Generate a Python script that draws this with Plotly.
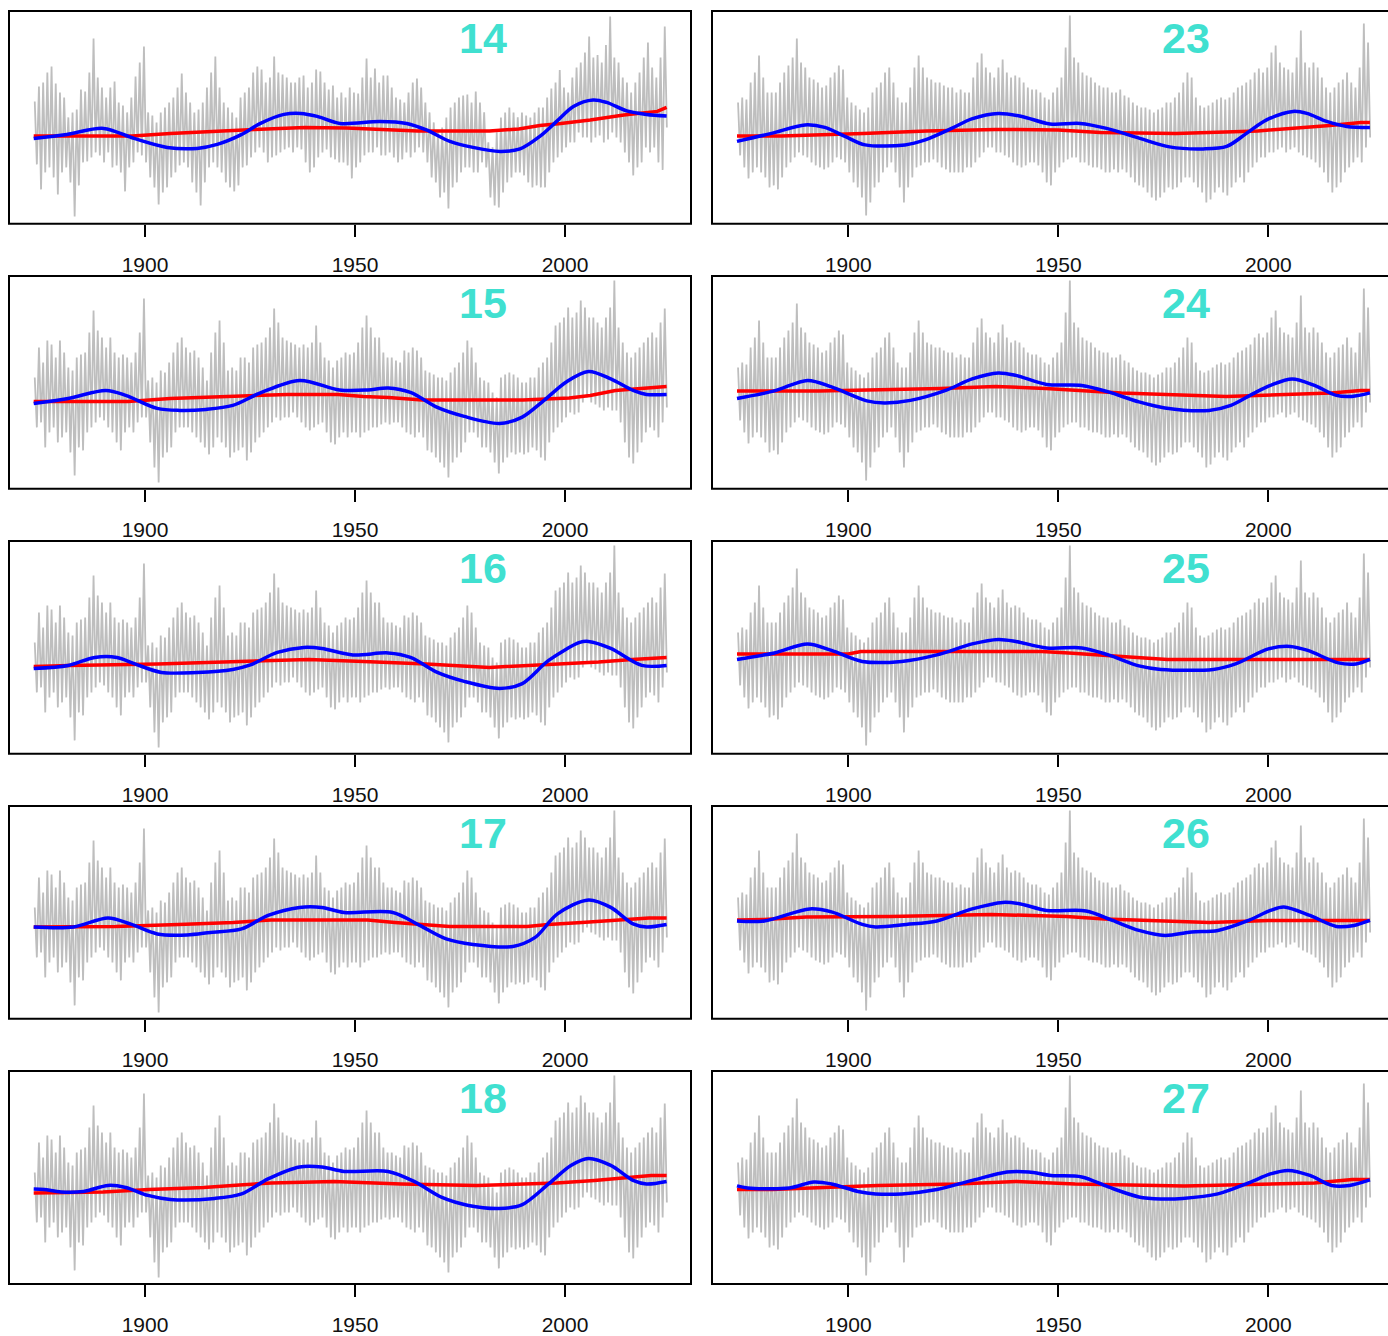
import plotly.graph_objects as go

W, H = 1388, 1336

# ---------------- data (arbitrary anomaly units) ----------------
YEARS = list(range(1874, 2025))
TICK_VALUES = [1900, 1950, 2000]
TICK_LABELS = ["1900", "1950", "2000"]
PANELS = ["14", "15", "16", "17", "18", "23", "24", "25", "26", "27"]

# gray series: yearly upper / lower envelope of the monthly values
L1_HI = [1.6, 3.1, 3.5, 4.5, 5.1, 3.4, 2.5, 2.0, 0.0, 0.5, 0.8, 2.8, 2.6, 4.5, 7.9, 4.0, 3.0, 2.0, 3.0, 3.6,
         1.5, 1.2, 0.5, 2.0, 4.1, 5.5, 7.1, 0.5, 0.2, -0.5, 0.5, 1.0, 1.5, 2.0, 3.0, 4.4, 2.5, 1.5, 0.5, 0.8,
         1.5, 3.0, 4.5, 6.1, 3.0, 1.5, 1.0, 0.5, 0.0, 2.0, 2.5, 3.0, 4.5, 5.1, 4.8, 3.5, 4.0, 6.1, 4.5, 4.3,
         4.0, 3.5, 3.5, 4.0, 4.2, 3.0, 3.5, 4.8, 4.6, 3.5, 2.8, 3.2, 2.0, 2.5, 2.0,
         3.0, 2.5, 2.4, 4.0, 5.9, 4.0, 4.9, 3.5, 4.2, 4.2, 3.0, 2.0, 1.8, 1.5, 2.5, 3.5, 3.9, 3.0, 1.5, 0.5,
         -0.5, -1.5, -1.0, 0.0, 1.0, 1.5, 2.0, 2.2, 2.3, 1.5, 2.6, 1.5, 0.5, -2.5, -3.0, -1.5, 0.0, 0.5, 1.0, 0.5,
         0.0, 0.5, 0.2, 0.0, 0.5, 1.0, 1.0, 2.0, 2.9, 3.5, 4.75, 3.0, 2.5, 4.0, 5.0, 5.5, 6.5, 8.1, 6.0, 6.25,
         5.5, 7.25, 10.1, 6.0, 5.5, 4.0, 3.5, 2.5, 3.5, 4.5, 6.0, 7.5, 5.0, 4.0, 6.0, 9.1]
L1_LO = [-4.7, -7.2, -5.5, -5.0, -6.0, -7.7, -5.5, -5.0, -6.5, -9.9, -6.8, -4.5, -4.4, -4.0, -3.5, -3.8, -4.5, -3.5, -5.0, -4.8,
         -5.5, -7.4, -5.0, -4.5, -3.5, -3.8, -4.5, -6.0, -7.0, -8.7, -7.5, -7.0, -6.0, -5.5, -4.8, -4.5, -5.0, -6.5, -7.5, -8.8,
         -6.5, -5.0, -4.5, -5.0, -5.5, -6.5, -7.0, -7.4, -6.8, -5.0, -4.8, -4.0, -3.5, -3.0, -3.5, -4.5, -4.0, -3.8, -3.5, -3.2,
         -3.0, -3.5, -3.0, -3.2, -4.5, -5.5, -5.0, -4.0, -3.5, -3.2, -4.0, -4.2, -4.5, -4.5, -4.8,
         -6.1, -5.0, -4.5, -3.8, -3.5, -3.5, -3.0, -3.8, -3.8, -3.5, -4.0, -4.5, -4.2, -3.5, -4.0, -3.5, -3.0, -3.5, -4.5, -6.0,
         -6.5, -8.0, -7.5, -9.1, -7.0, -6.5, -5.5, -5.0, -5.0, -5.5, -5.5, -4.5, -5.0, -8.0, -8.8, -9.0, -7.5, -6.5, -6.0, -5.5,
         -5.5, -5.8, -6.5, -7.0, -6.8, -7.0, -7.0, -5.5, -4.5, -4.0, -3.5, -3.0, -2.5, -2.5, -1.5, -2.0, -2.0, -2.5, -2.0, -1.8,
         -2.5, -2.2, -1.5, -2.0, -2.5, -3.5, -4.5, -5.8, -5.0, -4.5, -3.0, -3.5, -3.0, -4.5, -5.25, -1.0]

L2_HI = [0.5, 3.5, 2.0, 4.2, 3.8, 2.5, 4.2, 3.0, 1.5, 1.2, 2.5, 2.8, 3.0, 5.0, 7.2, 5.2, 4.5, 3.5, 4.5, 3.0,
         2.5, 2.8, 2.5, 2.0, 3.0, 5.0, 8.4, 0.2, 0.5, 0.0, 1.2, 1.0, 2.0, 3.0, 4.0, 4.5, 3.5, 3.0, 3.2, 2.5,
         1.5, 0.2, 3.0, 5.0, 6.2, 4.0, 1.2, 1.5, 1.2, 2.5, 2.5, 2.0, 3.5, 3.8, 4.0, 4.5, 5.5, 7.4, 6.0, 4.5,
         4.2, 4.0, 3.8, 3.5, 3.8, 3.5, 4.0, 5.7, 4.0, 2.5, 2.2, 1.5, 2.2, 2.5, 3.0, 2.8, 3.0, 4.0, 5.5, 6.7,
         5.5, 4.5, 4.5, 3.0, 2.5, 2.5, 2.2, 2.0, 3.2, 3.0, 3.5, 3.2, 2.5, 1.2, 1.0, 0.8, 0.5, 0.5, 0.2, 1.0,
         1.5, 2.0, 3.0, 4.2, 3.5, 2.0, 0.5, 0.2, 0.0, -1.0, -1.5, 0.5, 0.8, 1.0, 0.8, 0.5, 0.0, 0.0, 0.5, 0.5,
         1.5, 2.0, 2.5, 4.0, 5.7, 6.0, 6.5, 7.5, 6.5, 7.0, 8.2, 7.5, 6.5, 6.5, 6.0, 5.5, 6.5, 7.5, 10.2, 5.5,
         4.0, 3.0, 2.5, 3.0, 3.5, 4.0, 4.5, 5.0, 4.5, 6.0, 7.4]
L2_LO = [-4.5, -4.0, -6.5, -5.0, -4.5, -6.0, -5.5, -5.0, -7.0, -9.3, -6.5, -6.8, -5.0, -4.5, -4.0, -3.5, -3.8, -4.5, -5.0, -6.0,
         -6.8, -5.0, -4.5, -5.0, -4.0, -3.5, -3.5, -6.0, -8.5, -10.0, -7.5, -7.0, -6.5, -5.0, -4.5, -4.5, -4.5, -5.0, -5.5, -6.0,
         -6.5, -7.2, -6.5, -5.5, -6.0, -6.5, -7.5, -7.0, -6.8, -6.5, -7.8, -7.0, -6.0, -5.5, -5.0, -4.5, -4.0, -3.5, -3.8, -3.5,
         -3.5, -3.0, -3.5, -4.0, -4.5, -4.8, -4.5, -4.2, -4.0, -5.0, -6.0, -6.2, -5.5, -5.0, -5.5, -5.0, -5.0, -5.5, -5.0, -4.8,
         -4.5, -4.5, -4.2, -4.0, -4.2, -4.0, -4.0, -4.5, -5.0, -5.2, -5.5, -5.0, -5.5, -6.8, -7.0, -7.5, -8.0, -8.5, -9.5, -8.0,
         -7.5, -7.0, -6.0, -5.0, -5.0, -5.5, -6.5, -6.5, -7.0, -8.0, -9.1, -8.0, -7.5, -7.0, -7.2, -7.0, -7.2, -7.0, -6.5, -6.8,
         -7.5, -7.8, -6.0, -5.0, -4.5, -4.0, -3.5, -3.0, -3.2, -3.0, -2.0, -1.5, -2.0, -2.2, -2.5, -2.8, -2.5, -2.8, -2.8, -4.0,
         -6.0, -7.5, -8.1, -7.0, -6.0, -5.0, -4.5, -4.8, -5.5, -4.0, -2.5]

R_HI = [1.5, 2.0, 1.8, 3.5, 4.5, 6.2, 4.0, 2.5, 2.5, 2.5, 3.5, 4.5, 5.2, 6.0, 7.9, 5.5, 5.0, 4.0, 3.8, 3.5,
        3.0, 3.2, 4.0, 4.5, 5.2, 4.8, 2.0, 1.5, 1.2, 0.8, 0.5, 1.0, 2.5, 3.0, 3.5, 4.5, 5.0, 3.5, 2.0, 1.5,
        1.5, 3.0, 5.0, 6.2, 5.0, 4.0, 3.8, 3.5, 3.5, 3.2, 3.0, 3.0, 2.5, 2.8, 2.5, 2.5, 4.0, 5.5, 6.4, 5.0,
        4.5, 4.0, 5.0, 5.8, 4.5, 4.0, 4.2, 4.0, 3.5, 3.0, 2.8, 2.8, 2.5, 2.0, 1.8, 2.5, 3.0, 4.0, 7.0, 10.2,
        6.0, 5.5, 4.5, 4.2, 4.0, 3.5, 3.2, 3.0, 3.0, 2.5, 2.5, 2.8, 2.2, 2.0, 1.5, 1.2, 1.0, 1.0, 0.8, 0.5,
        0.8, 1.0, 1.5, 1.5, 2.0, 2.5, 3.5, 4.5, 4.0, 2.0, 1.2, 1.0, 1.2, 1.5, 1.8, 2.0, 1.8, 2.0, 2.5, 3.0,
        3.2, 3.5, 3.8, 4.5, 4.9, 4.5, 5.0, 6.5, 7.2, 5.5, 5.0, 4.8, 4.5, 6.0, 8.7, 5.5, 5.0, 5.5, 5.0, 4.0,
        3.0, 2.5, 3.0, 3.5, 3.8, 4.5, 3.5, 3.0, 5.0, 9.4, 7.5]
R_LO = [-3.8, -5.0, -6.1, -5.5, -5.0, -5.5, -6.0, -7.0, -6.8, -7.2, -6.0, -5.0, -4.5, -4.0, -3.5, -3.8, -4.0, -4.5, -4.8, -5.0,
        -5.2, -5.0, -4.5, -4.0, -4.2, -4.5, -5.5, -6.5, -7.0, -8.0, -9.8, -8.5, -7.0, -6.5, -5.5, -5.0, -4.5, -5.5, -7.0, -8.5,
        -7.0, -6.0, -5.0, -4.8, -4.5, -4.5, -4.2, -4.5, -5.0, -5.2, -5.5, -5.5, -5.5, -5.5, -5.0, -5.0, -4.5, -4.0, -3.5, -3.0,
        -3.0, -3.5, -3.5, -3.8, -4.0, -4.5, -4.8, -5.0, -4.8, -4.5, -4.5, -4.8, -5.5, -6.5, -6.8, -5.5, -5.0, -4.5, -4.2, -4.0,
        -4.0, -4.5, -4.5, -4.8, -5.0, -5.0, -5.2, -5.5, -5.5, -5.2, -5.5, -5.2, -5.5, -6.0, -6.5, -6.8, -7.0, -7.5, -8.0, -8.3,
        -8.0, -7.5, -7.0, -7.2, -7.0, -6.5, -6.0, -6.0, -6.5, -7.0, -7.5, -8.5, -8.2, -7.5, -7.0, -7.5, -7.8, -7.0, -6.5, -6.0,
        -6.5, -5.5, -5.0, -4.5, -4.0, -4.0, -3.5, -3.5, -3.2, -3.0, -3.5, -3.2, -3.0, -3.5, -3.8, -4.0, -4.2, -4.5, -5.0, -5.5,
        -6.5, -7.5, -7.0, -6.5, -5.5, -5.0, -4.5, -4.0, -4.5, -3.0, -2.0]

GRAY_SET = {"14": (L1_HI, L1_LO), "15": (L2_HI, L2_LO), "16": (L2_HI, L2_LO), "17": (L2_HI, L2_LO),
            "18": (L2_HI, L2_LO), "23": (R_HI, R_LO), "24": (R_HI, R_LO), "25": (R_HI, R_LO),
            "26": (R_HI, R_LO), "27": (R_HI, R_LO)}

# red trend line
RED_X = {
    "14": [1873.5, 1897, 1906, 1917, 1926, 1938, 1948, 1965, 1982, 1989, 1994, 1999, 2006, 2014, 2022, 2024.2],
    "15": [1873.5, 1896, 1906, 1921, 1934, 1946, 1952, 1958, 1966, 1990, 2001, 2006, 2012, 2024.2],
    "16": [1873.5, 1882, 1903, 1923, 1939, 1952, 1967, 1982, 1995, 2008, 2016, 2024.2],
    "17": [1873.5, 1886, 1893, 1908, 1921, 1930, 1953, 1959.5, 1967.5, 1972.5, 1991, 1996, 2004, 2012, 2020, 2024.2],
    "18": [1873.5, 1886, 1890, 1901, 1914, 1922.5, 1930, 1945, 1961, 1979, 1998, 2007, 2013.5, 2020.5, 2024.2],
    "23": [1873.5, 1884, 1903.5, 1918.7, 1935, 1950, 1960, 1978, 1997.5, 2006.5, 2014.7, 2022, 2024.2],
    "24": [1873.5, 1893, 1922, 1935, 1947, 1965, 1990, 2015, 2022, 2024.2],
    "25": [1873.5, 1900, 1903, 1946, 1952.5, 1961, 1969.5, 1976, 2024.2],
    "26": [1873.5, 1880, 1890, 1910, 1934, 1952, 1961, 1971, 1986, 2000, 2024.2],
    "27": [1873.5, 1882, 1891, 1907, 1926, 1940, 1954, 1980, 2011, 2020, 2024.2],
}
RED_Y = {
    "14": [-1.85, -1.85, -1.6, -1.35, -1.2, -1.0, -1.05, -1.35, -1.35, -1.15, -0.8, -0.6, -0.25, 0.25, 0.6, 1.0],
    "15": [-1.9, -1.9, -1.6, -1.4, -1.2, -1.2, -1.4, -1.5, -1.75, -1.75, -1.55, -1.3, -0.8, -0.4],
    "16": [-1.9, -1.8, -1.65, -1.4, -1.2, -1.4, -1.65, -2.0, -1.75, -1.45, -1.2, -1.0],
    "17": [-1.45, -1.45, -1.4, -1.2, -1.0, -0.75, -0.75, -1.0, -1.2, -1.4, -1.4, -1.2, -1.0, -0.75, -0.55, -0.55],
    "18": [-1.55, -1.5, -1.45, -1.2, -1.0, -0.75, -0.55, -0.4, -0.65, -0.8, -0.55, -0.3, -0.1, 0.2, 0.2],
    "23": [-1.85, -1.85, -1.6, -1.35, -1.2, -1.25, -1.5, -1.6, -1.35, -1.1, -0.8, -0.5, -0.5],
    "24": [-0.85, -0.85, -0.6, -0.4, -0.6, -1.05, -1.4, -1.05, -0.8, -0.8],
    "25": [-0.65, -0.65, -0.4, -0.4, -0.55, -0.8, -1.0, -1.2, -1.2],
    "26": [-0.75, -0.7, -0.45, -0.4, -0.2, -0.4, -0.65, -0.8, -1.0, -0.8, -0.8],
    "27": [-1.2, -1.2, -1.05, -0.8, -0.65, -0.4, -0.65, -0.85, -0.55, -0.2, -0.2],
}

# blue smooth curve
BLUE_X = {
    "14": [1873.5, 1881.4, 1890.1, 1897.4, 1905.3, 1912.4, 1917.2, 1922.8, 1927.5, 1933.1, 1937.1, 1941, 1946.4, 1955.9,
           1962.3, 1967, 1972.6, 1978.1, 1984.5, 1989.3, 1994, 1998, 2002, 2006.7, 2009.9, 2014.7, 2019.4, 2024.2],
    "15": [1873.5, 1881.7, 1890.7, 1895.4, 1902.9, 1908.2, 1914.5, 1920.9, 1927.2, 1936.8, 1946.3, 1953, 1957.9, 1963.2,
           1969.6, 1976, 1984.4, 1989.7, 1995, 2000.3, 2005.6, 2010.9, 2016.2, 2019.4, 2024.2],
    "16": [1873.5, 1881.7, 1888, 1893.3, 1897.6, 1903.9, 1912.4, 1920.9, 1925.1, 1931.5, 1937.8, 1942.1, 1949.5, 1957.9,
           1963.2, 1969.6, 1976, 1984.4, 1989.7, 1996.1, 2003.5, 2005.6, 2010.9, 2018.3, 2024.2],
    "17": [1873.5, 1883, 1891.2, 1896.5, 1902.9, 1910, 1915.6, 1923, 1929.3, 1936.8, 1942.1, 1947.4, 1959, 1965.4,
           1971.7, 1978.1, 1987.6, 1992.9, 1998.2, 2005.6, 2010.9, 2016.2, 2019.4, 2024.2],
    "18": [1873.5, 1876, 1880, 1885.4, 1891.2, 1895.4, 1900.7, 1906, 1916.6, 1923, 1929.3, 1936.8, 1942.1, 1947.4,
           1957.9, 1964.3, 1970.7, 1977, 1984.4, 1989.7, 1996.1, 2001.4, 2005.6, 2010.9, 2016.2, 2019.4, 2024.2],
    "23": [1873.5, 1881.7, 1889.7, 1894.4, 1899.2, 1904, 1913.5, 1918.3, 1924.6, 1929.4, 1935.7, 1941.3, 1948, 1955.2,
           1961.5, 1969.4, 1976.5, 1984.5, 1990.1, 1994.8, 1999.6, 2005.9, 2009.2, 2013.9, 2018.7, 2024.2],
    "24": [1873.5, 1882.4, 1890.3, 1896, 1904.4, 1908.6, 1914.8, 1923.2, 1929.5, 1935.7, 1939.9, 1947.2, 1955.6, 1961.9,
           1969.2, 1975.4, 1985.9, 1991.1, 1996.3, 2000.5, 2005.7, 2011, 2016.2, 2019.9, 2024.2],
    "25": [1873.5, 1882.4, 1890.3, 1896, 1903.3, 1912.7, 1921.1, 1929.5, 1935.7, 1939.9, 1947.2, 1955.6, 1961.9, 1969.2,
           1974.4, 1986.9, 1992.2, 2000, 2005.2, 2009.4, 2016.7, 2020.9, 2024.2],
    "26": [1873.5, 1880, 1890.8, 1896, 1903.3, 1906.5, 1913.8, 1921.1, 1929.5, 1936.8, 1941, 1947.2, 1956.6, 1962.9,
           1969.2, 1975.4, 1981.7, 1988, 1995.3, 2000.5, 2003.7, 2009.9, 2016.2, 2020.4, 2024.2],
    "27": [1873.5, 1876, 1886, 1891.8, 1896, 1902.3, 1906.5, 1912.7, 1921.1, 1929.5, 1937.8, 1943, 1948.3, 1955.6,
           1961.9, 1969.2, 1974.4, 1979.6, 1988, 1995.3, 2000.5, 2004.7, 2009.9, 2015.1, 2019.3, 2024.2],
}
BLUE_Y = {
    "14": [-2.1, -1.7, -1.1, -2.1, -3.0, -3.1, -2.7, -1.75, -0.6, 0.3, 0.4, 0.1, -0.6, -0.4,
           -0.6, -1.25, -2.4, -3.0, -3.4, -3.15, -1.9, -0.4, 1.1, 1.75, 1.5, 0.65, 0.3, 0.15],
    "15": [-2.1, -1.6, -0.8, -1.3, -2.6, -2.8, -2.7, -2.3, -1.1, 0.2, -0.75, -0.75, -0.55, -1.0,
           -2.5, -3.4, -4.1, -3.5, -1.8, 0.05, 1.1, 0.35, -0.8, -1.2, -1.2],
    "16": [-2.1, -1.8, -1.0, -1.0, -1.65, -2.5, -2.5, -2.2, -1.75, -0.5, 0.0, -0.1, -0.75, -0.55,
           -1.0, -2.5, -3.4, -4.1, -3.65, -1.3, 0.5, 0.6, -0.1, -1.8, -1.8],
    "17": [-1.45, -1.45, -0.55, -1.15, -2.15, -2.25, -2.0, -1.65, -0.3, 0.5, 0.5, 0.0, 0.0, -1.3,
           -2.65, -3.2, -3.4, -2.5, -0.15, 1.25, 0.5, -1.15, -1.45, -1.2],
    "18": [-1.15, -1.2, -1.45, -1.4, -0.8, -1.0, -1.8, -2.2, -2.1, -1.65, -0.15, 1.05, 1.05, 0.6,
           0.6, -0.45, -2.0, -2.8, -3.1, -2.75, -0.65, 1.2, 1.9, 1.2, -0.3, -0.65, -0.4],
    "23": [-2.4, -1.6, -0.75, -1.0, -1.9, -2.75, -2.75, -2.25, -1.1, -0.15, 0.4, 0.1, -0.65, -0.6,
           -1.1, -2.1, -2.95, -3.15, -2.9, -1.6, -0.25, 0.6, 0.4, -0.4, -0.9, -1.0],
    "24": [-1.6, -0.85, 0.2, -0.45, -1.85, -2.05, -1.8, -0.8, 0.35, 0.95, 0.7, -0.2, -0.3, -0.95,
           -1.95, -2.55, -2.8, -2.3, -1.15, -0.3, 0.35, -0.3, -1.3, -1.4, -1.05],
    "25": [-1.2, -0.55, 0.35, -0.3, -1.4, -1.4, -0.75, 0.35, 0.8, 0.6, -0.05, -0.05, -0.75, -1.85,
           -2.2, -2.2, -1.65, -0.15, 0.1, -0.3, -1.55, -1.65, -1.2],
    "26": [-0.85, -0.85, 0.35, 0.05, -1.2, -1.45, -1.2, -0.85, 0.35, 1.0, 0.85, 0.2, 0.15, -0.8,
           -1.8, -2.3, -1.95, -1.8, -0.8, 0.2, 0.55, -0.3, -1.4, -1.3, -0.8],
    "27": [-0.85, -1.05, -1.05, -0.45, -0.65, -1.4, -1.65, -1.65, -1.2, -0.3, 0.55, 0.55, 0.2, 0.05,
           -0.95, -1.95, -2.15, -2.1, -1.65, -0.55, 0.35, 0.7, 0.2, -0.8, -0.8, -0.25],
}

# ---------------- figure ----------------
fig = go.Figure()

COL_LEFT_PX = [9, 712]
COL_RIGHT_PX = [691, 1394]
COL_RANGE = [[1867.62, 2030.0], [1867.55, 2028.5]]
ROW_TOP_PX = [11, 277, 543, 809, 1075]
BOX_H = 213.7

annotations = []
shapes = []
for idx, name in enumerate(PANELS):
    col, row = idx // 5, idx % 5
    n = idx + 1
    xs = "x" if n == 1 else f"x{n}"
    ys = "y" if n == 1 else f"y{n}"
    top = ROW_TOP_PX[row]
    bot = top + BOX_H
    left, right = COL_LEFT_PX[col], COL_RIGHT_PX[col]

    hi, lo = GRAY_SET[name]
    gx, gy = [], []
    for yr, h, l in zip(YEARS, hi, lo):
        gx += [yr - 0.25, yr + 0.25]
        gy += [h, l]
    fig.add_trace(go.Scatter(x=gx, y=gy, mode="lines", line=dict(color="#BEBEBE", width=1.8),
                             xaxis=xs, yaxis=ys, hoverinfo="skip", showlegend=False))
    fig.add_trace(go.Scatter(x=RED_X[name], y=RED_Y[name], mode="lines",
                             line=dict(color="#FF0000", width=3.5),
                             xaxis=xs, yaxis=ys, hoverinfo="skip", showlegend=False))
    fig.add_trace(go.Scatter(x=BLUE_X[name], y=BLUE_Y[name], mode="lines",
                             line=dict(color="#0000FF", width=3.5, shape="spline", smoothing=0.9),
                             xaxis=xs, yaxis=ys, hoverinfo="skip", showlegend=False))

    dom_x = [left / W, min(right / W, 1.0)]
    rng = COL_RANGE[col]
    fig.layout[f"xaxis{n if n > 1 else ''}"] = dict(
        domain=dom_x, range=rng, anchor=ys, tickvals=TICK_VALUES, ticktext=TICK_LABELS,
        ticks="outside", ticklen=12, tickwidth=1.5, tickcolor="black",
        showgrid=False, zeroline=False, showline=False, ticklabelstandoff=10,
        tickfont=dict(family="Arial, Liberation Sans, sans-serif", size=21, color="#111111"),
    )
    fig.layout[f"yaxis{n if n > 1 else ''}"] = dict(
        domain=[1 - bot / H, 1 - top / H], range=[-10.65, 10.65], anchor=xs, visible=False,
    )
    shapes.append(dict(type="rect", xref="paper", yref="paper",
                       x0=left / W, x1=right / W, y0=1 - bot / H, y1=1 - top / H,
                       line=dict(color="black", width=2), fillcolor="rgba(0,0,0,0)", layer="above"))
    annotations.append(dict(text=f"<b>{name}</b>", xref=xs, yref=f"{ys} domain", x=1980.4, y=0.873,
                            xanchor="center", yanchor="middle", showarrow=False,
                            font=dict(family="Arial, Liberation Sans, sans-serif", size=43, color="#40E0D0")))

fig.update_layout(width=W, height=H, margin=dict(l=0, r=0, t=0, b=0),
                  paper_bgcolor="white", plot_bgcolor="white",
                  shapes=shapes, annotations=annotations, showlegend=False)

fig.write_html("out.html")
